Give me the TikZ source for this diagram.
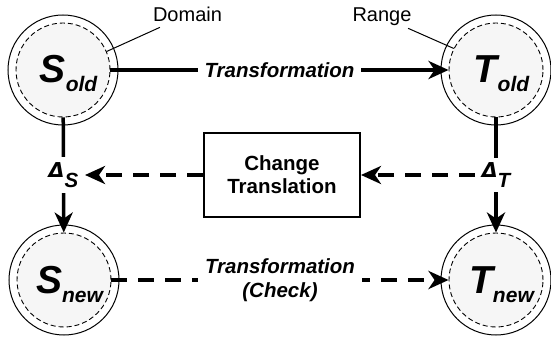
\documentclass[tikz,border=0pt]{standalone}
\usepackage{fontspec}
\setmainfont{Liberation Sans}
\newfontfamily\greekfont{DejaVu Sans}
\usetikzlibrary{arrows.meta}

% lowered subscript used in the state and delta labels
\newcommand\lowsub[2][9pt]{\raisebox{-#1}{#2}}
% capital Delta
\newcommand\capdelta{{\greekfont\bfseries\itshape\symbol{"0394}}}

\tikzset{
  outerring/.style={circle, draw, line width=1pt, minimum size=110pt, inner sep=0pt},
  innerring/.style={circle, draw, dash pattern=on 5pt off 3pt, line width=0.9pt,
    fill=gray!7, minimum size=94pt, inner sep=0pt},
  bigsym/.style={anchor=base, inner sep=0pt,
    font=\fontsize{39}{39}\selectfont\bfseries\itshape},
  flow/.style={line width=3.5pt, -{Stealth[length=20pt,width=18pt,inset=6pt]}},
  dashflow/.style={flow, dash pattern=on 16pt off 11pt},
  caption/.style={fill=white, inner sep=7pt, align=center,
    font=\fontsize{20.5}{24}\selectfont\bfseries\itshape},
  tag/.style={anchor=base, inner sep=0pt, font=\fontsize{20}{24}\selectfont},
  leader/.style={line width=1pt},
  delta/.style={fill=white, inner sep=5pt,
    font=\fontsize{20.5}{24}\selectfont\bfseries\itshape},
  changebox/.style={draw, line width=2pt, minimum width=156pt, minimum height=84pt,
    align=center, font=\fontsize{20.5}{23}\selectfont\bfseries}
}

\begin{document}
\begin{tikzpicture}[x=1pt,y=1pt]
\useasboundingbox (0,0) rectangle (551,340);

% state circles: solid outer ring, dashed shaded inner ring
\node[outerring] (SoldO) at (63,270) {};
\node[outerring] (ToldO) at (496,270) {};
\node[outerring] (SnewO) at (64,60) {};
\node[outerring] (TnewO) at (496,60) {};
\node[innerring] (Sold) at (63,270) {};
\node[innerring] (Told) at (496,270) {};
\node[innerring] (Snew) at (64,60) {};
\node[innerring] (Tnew) at (496,60) {};

\node[bigsym] (SoldL) at (68.5,257) {S\lowsub{\fontsize{21}{21}\selectfont old}};
\node[bigsym] (ToldL) at (501.5,257) {T\lowsub{\fontsize{21}{21}\selectfont old}};
\node[bigsym] (SnewL) at (69.5,47) {S\lowsub{\fontsize{21}{21}\selectfont new}};
\node[bigsym] (TnewL) at (501.5,47) {T\lowsub{\fontsize{21}{21}\selectfont new}};

% domain / range callouts
\node[tag] (dom) at (187.5,318) {Domain};
\node[tag] (ran) at (382,318) {Range};
\draw[leader] ([xshift=7pt,yshift=-5pt]dom.south west) -- (Sold.23);
\draw[leader] ([xshift=-3.5pt,yshift=-2pt]ran.south east) -- (Told.153);

% change translation box
\node[changebox] (box) at (282,165) {Change\\Translation};

% transformations
\draw[flow] (Sold) -- node[caption] (tr) {Transformation} (Told);
\draw[dashflow] (Snew) -- node[caption] (trc) {Transformation\\(Check)} (Tnew);

% deltas
\draw[flow] (Sold) -- node[delta] (dS) {\capdelta\lowsub[10pt]{S}} (Snew);
\draw[flow] (Told) -- node[delta] (dT) {\capdelta\lowsub[10pt]{T}} (Tnew);

% translated changes
\draw[dashflow] (box.west) -- (box.west -| dS.east);
\draw[dashflow] (dT.west |- box.east) -- (box.east);
\end{tikzpicture}
\end{document}
